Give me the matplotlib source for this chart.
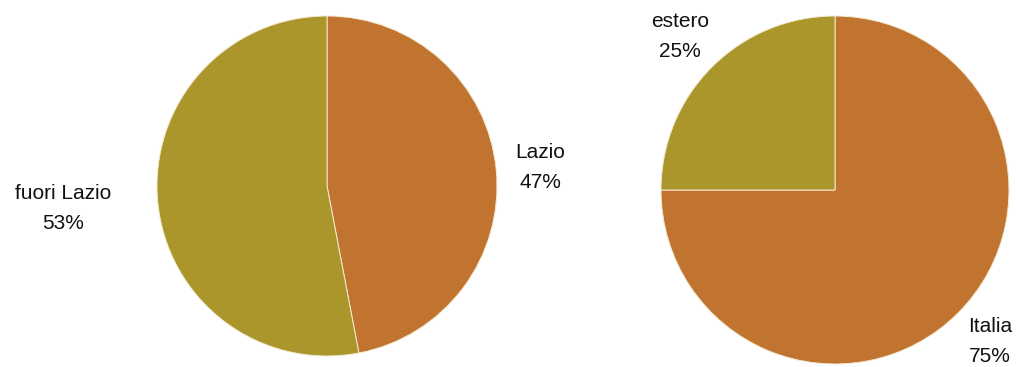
import matplotlib
matplotlib.use("Agg")
import matplotlib.pyplot as plt
from matplotlib.transforms import offset_copy

plt.rcParams['font.family'] = ['Liberation Sans', 'DejaVu Sans']

# Data
left_labels = ["Lazio", "fuori Lazio"]
left_values = [47, 53]
right_labels = ["Italia", "estero"]
right_values = [75, 25]

colors = ["#C07430", "#AA962B"]

W, H = 1016, 367
fig = plt.figure(figsize=(W / 100, H / 100), dpi=100)

def add_pie(cx, cy, r, values, labels, label_pos):
    ax = fig.add_axes([(cx - r) / W, (H - cy - r) / H, 2 * r / W, 2 * r / H])
    ax.pie(values, colors=colors, startangle=90, counterclock=False,
           radius=1, wedgeprops=dict(edgecolor="#f4ead2", linewidth=0.7))
    ax.set_xlim(-1, 1)
    ax.set_ylim(-1, 1)
    ax.set_aspect('auto')
    ax.axis('off')
    total = sum(values)
    up = offset_copy(ax.transData, fig=fig, x=0, y=15, units='dots')
    dn = offset_copy(ax.transData, fig=fig, x=0, y=-15, units='dots')
    for lab, v, (x, y) in zip(labels, values, label_pos):
        ax.text(x, y, lab, ha='center', va='baseline', fontsize=15,
                color='#111111', transform=up)
        ax.text(x, y, f"{round(100 * v / total)}%", ha='center', va='baseline',
                fontsize=15, color='#111111', transform=dn)
    return ax

add_pie(327, 186, 170, left_values, left_labels, [(1.253, 0.076), (-1.553, -0.165)])
add_pie(835, 190, 174, right_values, right_labels, [(0.891, -0.90), (-0.891, 0.851)])

fig.savefig("out.png", dpi=100)
